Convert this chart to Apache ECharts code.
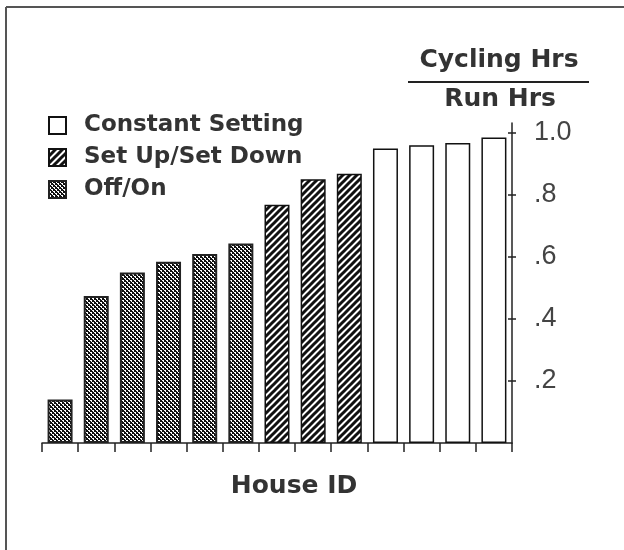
<!DOCTYPE html>
<html>
<head>
<meta charset="utf-8">
<script src="https://cdn.jsdelivr.net/npm/echarts@6/dist/echarts.min.js"></script>
<style>html,body{margin:0;padding:0;background:#fff}#c{width:624px;height:550px}</style>
</head>
<body>
<div id="c"></div>
<script>
// ---- data ----
var houseIds = ['1','2','3','4','5','6','7','8','9','10','11','12','13'];
var ratioValues = [0.14, 0.473, 0.549, 0.583, 0.608, 0.642, 0.767, 0.849, 0.867, 0.948, 0.958, 0.966, 0.983];
var strategyOfHouse = ['Off/On','Off/On','Off/On','Off/On','Off/On','Off/On',
  'Set Up/Set Down','Set Up/Set Down','Set Up/Set Down',
  'Constant Setting','Constant Setting','Constant Setting','Constant Setting'];
var legendNames = ['Constant Setting', 'Set Up/Set Down', 'Off/On'];
var yTickValues = [0.2, 0.4, 0.6, 0.8, 1.0];
var yLabelTexts = ['.2', '.4', '.6', '.8', '1.0'];

// ---- patterns ----
function ditherPattern() {
  var c = document.createElement('canvas'); c.width = 4; c.height = 4;
  var g = c.getContext('2d');
  g.fillStyle = '#fff'; g.fillRect(0,0,4,4);
  g.fillStyle = '#111';
  for (var x = 0; x < 4; x++) for (var y = 0; y < 4; y++) {
    if ((Math.floor(x/2) + Math.floor(y/2)) % 2 === 0) g.fillRect(x,y,1,1);
  }
  g.fillRect(2,1,1,1); g.fillRect(0,3,1,1);
  return c;
}
function hatchPattern() {
  var s = 7;
  var c = document.createElement('canvas'); c.width = s; c.height = s;
  var g = c.getContext('2d');
  g.fillStyle = '#fff'; g.fillRect(0,0,s,s);
  g.strokeStyle = '#111'; g.lineWidth = 3; g.lineCap = 'square';
  g.beginPath();
  g.moveTo(-1, s+1); g.lineTo(s+1, -1);
  g.moveTo(-2, 2); g.lineTo(2, -2);
  g.moveTo(s-2, s+2); g.lineTo(s+2, s-2);
  g.stroke();
  return c;
}
var styles = {
  'Constant Setting': { color: '#ffffff', borderColor: '#111', borderWidth: 1.5 },
  'Set Up/Set Down': { color: { image: hatchPattern(), repeat: 'repeat' }, borderColor: '#111', borderWidth: 1.5 },
  'Off/On': { color: { image: ditherPattern(), repeat: 'repeat' }, borderColor: '#222', borderWidth: 2 }
};

var series = legendNames.map(function (name) {
  return {
    name: name,
    type: 'bar',
    stack: 'all',
    barWidth: 25,
    itemStyle: styles[name],
    emphasis: { disabled: true },
    data: ratioValues.map(function (v, i) { return strategyOfHouse[i] === name ? v : '-'; })
  };
});

var chart = echarts.init(document.getElementById('c'), null, { renderer: 'canvas' });
chart.setOption({
  animation: false,
  backgroundColor: '#fff',
  grid: { left: 42, right: 112, top: 123, bottom: 107 },
  legend: {
    data: legendNames,
    orient: 'vertical',
    left: 43, top: 109,
    itemWidth: 17, itemHeight: 17, itemGap: 9,
    icon: 'rect',
    selectedMode: false,
    textStyle: { fontFamily: 'DejaVu Sans', fontWeight: 'bold', fontSize: 23, color: '#333', lineHeight: 22, padding: [0,0,0,13] }
  },
  xAxis: {
    type: 'category',
    data: houseIds,
    axisLabel: { show: false },
    axisLine: { lineStyle: { color: '#222', width: 1.5 } },
    axisTick: { show: true, length: 9, lineStyle: { color: '#222', width: 1.5 } },
    splitLine: { show: false }
  },
  yAxis: [{
    type: 'value', position: 'right', min: 0, max: 1.03,
    axisLine: { show: true, lineStyle: { color: '#222', width: 1.5 } },
    axisTick: { show: true, length: 4, customValues: yTickValues, lineStyle: { color: '#222', width: 1.5 } },
    axisLabel: {
      show: true, customValues: yTickValues, margin: 22, align: 'left',
      fontFamily: 'Liberation Sans', fontSize: 27, color: '#444',
      formatter: function (v) { var k = yTickValues.indexOf(Math.round(v*10)/10); return k >= 0 ? yLabelTexts[k] : ''; }
    },
    splitLine: { show: false }
  }, {
    type: 'value', position: 'right', min: 0, max: 1.03,
    axisLine: { show: false },
    axisTick: { show: true, inside: true, length: 4, customValues: yTickValues, lineStyle: { color: '#222', width: 1.5 } },
    axisLabel: { show: false },
    splitLine: { show: false }
  }],
  graphic: [
    { type: 'line', shape: { x1: 6, y1: 7, x2: 624, y2: 7 }, style: { stroke: '#555', lineWidth: 2 } },
    { type: 'line', shape: { x1: 6, y1: 7, x2: 6, y2: 550 }, style: { stroke: '#555', lineWidth: 2 } },
    { type: 'text', x: 499, y: 60, style: { text: 'Cycling Hrs', fontFamily: 'DejaVu Sans', fontWeight: 'bold', fontSize: 25, fill: '#333', align: 'center', verticalAlign: 'middle' } },
    { type: 'line', shape: { x1: 408, y1: 82, x2: 589, y2: 82 }, style: { stroke: '#222', lineWidth: 2 } },
    { type: 'text', x: 500, y: 99, style: { text: 'Run Hrs', fontFamily: 'DejaVu Sans', fontWeight: 'bold', fontSize: 25, fill: '#333', align: 'center', verticalAlign: 'middle' } },
    { type: 'text', x: 294, y: 486, style: { text: 'House ID', fontFamily: 'DejaVu Sans', fontWeight: 'bold', fontSize: 25, fill: '#333', align: 'center', verticalAlign: 'middle' } }
  ],
  series: series
});
</script>
</body>
</html>
